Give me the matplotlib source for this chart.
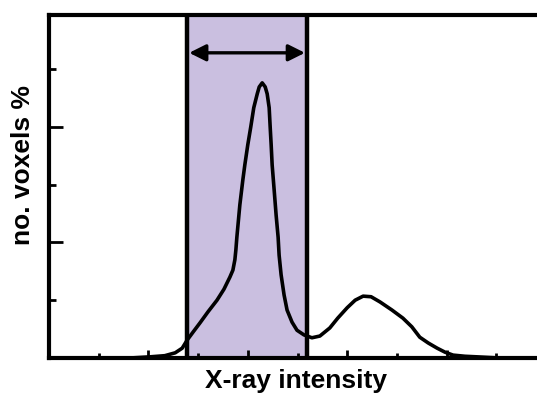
import matplotlib
matplotlib.use("Agg")
import matplotlib.pyplot as plt
from matplotlib.ticker import MultipleLocator

# Data (x in tick units, y in tick units)
curve_x = [1.63, 2.03, 2.33, 2.54, 2.68, 2.78, 2.90, 3.04, 3.20, 3.38, 3.52, 3.64, 3.70, 3.74,
           3.76, 3.78, 3.84, 3.90, 3.94, 4.00, 4.06, 4.12, 4.19, 4.23, 4.29, 4.35, 4.39, 4.43,
           4.45, 4.47, 4.49, 4.53, 4.57, 4.61, 4.63, 4.67, 4.73, 4.79, 4.89, 4.99, 5.13, 5.29,
           5.45, 5.65, 5.81, 6.00, 6.16, 6.32, 6.48, 6.66, 6.90, 7.12, 7.30, 7.46, 7.63, 7.81,
           7.97, 8.13, 8.37, 8.61, 9.07]
curve_y = [0.00, 0.02, 0.04, 0.09, 0.17, 0.31, 0.45, 0.61, 0.80, 1.00, 1.19, 1.40, 1.52, 1.70,
           1.87, 2.09, 2.65, 3.08, 3.34, 3.69, 4.00, 4.33, 4.57, 4.69, 4.76, 4.69, 4.57, 4.33,
           4.00, 3.69, 3.34, 2.91, 2.47, 2.09, 1.78, 1.44, 1.09, 0.83, 0.62, 0.48, 0.40, 0.35,
           0.38, 0.52, 0.69, 0.87, 1.00, 1.07, 1.06, 0.97, 0.83, 0.69, 0.54, 0.36, 0.26, 0.17,
           0.10, 0.05, 0.03, 0.02, 0.00]
window = [2.78, 5.19]
arrow_y = 5.28

x_label = "X-ray intensity"
y_label = "no. voxels %"

W, H = 537, 395
fig = plt.figure(figsize=(W / 100, H / 100), dpi=100)
left_px, right_px, top_px, bottom_px = 49, 537, 15, 358
ax = fig.add_axes([left_px / W, (H - bottom_px) / H,
                   (right_px - left_px) / W, (bottom_px - top_px) / H])
ax.set_xlim(0, (right_px - left_px) / 49.7)
ax.set_ylim(0, (bottom_px - top_px) / 57.8)

ax.axvspan(window[0], window[1], color="#cabfe0", zorder=0, lw=0)
for xv in window:
    ax.axvline(xv, color="black", lw=3.2, zorder=2)

ax.plot(curve_x, curve_y, color="black", lw=2.6, solid_joinstyle="round",
        solid_capstyle="round", zorder=3)

ax.annotate("", xy=(window[0] + 0.04, arrow_y), xytext=(window[1] - 0.04, arrow_y),
            arrowprops=dict(arrowstyle="<|-|>,head_length=1.0,head_width=0.5",
                            color="black", lw=2.4, shrinkA=0, shrinkB=0), zorder=4)

for s in ["left", "top", "bottom"]:
    ax.spines[s].set_linewidth(3.0)
ax.spines["right"].set_visible(False)

ax.xaxis.set_major_locator(MultipleLocator(2))
ax.xaxis.set_minor_locator(MultipleLocator(1))
ax.yaxis.set_major_locator(MultipleLocator(2))
ax.yaxis.set_minor_locator(MultipleLocator(1))
ax.tick_params(axis="x", which="major", direction="in", length=6, width=2, labelbottom=False)
ax.tick_params(axis="x", which="minor", direction="in", length=3.5, width=2)
ax.tick_params(axis="y", which="major", direction="in", length=10, width=2, labelleft=False)
ax.tick_params(axis="y", which="minor", direction="in", length=5, width=2)
ax.tick_params(top=False, right=False, which="both")

fig.text(296 / W, 1 - 381 / H, x_label, ha="center", va="center",
         fontsize=19, fontweight="bold", family="Liberation Sans")
fig.text(23 / W, 1 - 165 / H, y_label, ha="center", va="center", rotation=90,
         fontsize=19, fontweight="bold", family="Liberation Sans")

fig.savefig("out.png", dpi=100)
